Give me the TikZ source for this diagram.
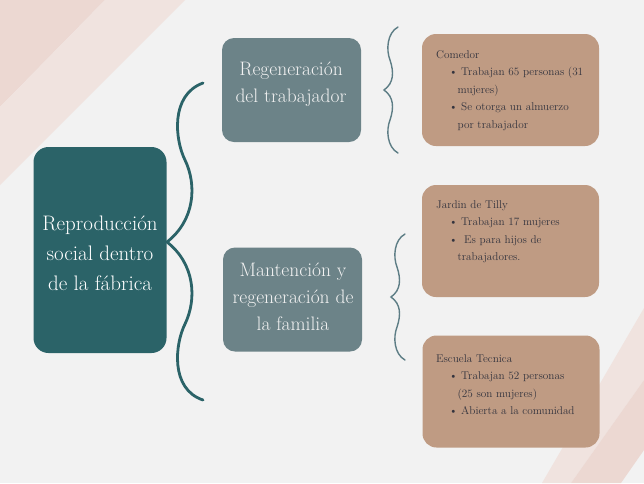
\documentclass[tikz,border=0pt]{standalone}

\definecolor{bgcol}{HTML}{F2F2F2}
\definecolor{pinkdark}{HTML}{ECD8D2}
\definecolor{pinklight}{HTML}{F0E3DF}
\definecolor{tealdark}{HTML}{2B6368}
\definecolor{tealgrey}{HTML}{6C8388}
\definecolor{tanbox}{HTML}{BF9B83}
\definecolor{bracegrey}{HTML}{5D7D85}
\definecolor{inktext}{HTML}{34343E}

\newcommand{\bul}{\hspace*{13pt}\textbullet\hspace{3.5pt}}
\newcommand{\cont}{\hspace*{21.5pt}}

\begin{document}
\begin{tikzpicture}[x=1pt, y=-1pt,
  mainbox/.style={fill=tealdark, rounded corners=15pt, minimum width=133pt, minimum height=206pt, inner sep=0},
  midbox/.style={fill=tealgrey, rounded corners=12pt, minimum width=139pt, minimum height=104pt, inner sep=0},
  infobox/.style={fill=tanbox, rounded corners=14pt, minimum width=177pt, minimum height=112pt, inner sep=0},
  maintxt/.style={inner sep=0, align=center, text=white, font=\fontsize{21}{30}\selectfont},
  midtxt/.style={inner sep=0, align=center, text=white!95!black, font=\fontsize{19.5}{27}\selectfont},
  infotxt/.style={anchor=north west, inner sep=0, align=left, text=inktext, font=\fontsize{11.2}{17.5}\selectfont},
  bigbrace/.style={draw=tealdark, line width=2.8pt, line cap=round},
  smallbrace/.style={draw=bracegrey, line width=1.4pt, line cap=round}]

\useasboundingbox (0,0) rectangle (644,483);

% Background and stripes
\fill[bgcol] (0,0) rectangle (644,483);
\fill[pinkdark] (0,0) -- (105,0) -- (0,107) -- cycle;
\fill[pinklight] (105,0) -- (185,0) -- (0,185) -- (0,107) -- cycle;
\fill[pinklight] (644,308) -- (542,483) -- (571,483) -- (644,380) -- cycle;
\fill[pinkdark] (644,380) -- (571,483) -- (621,483) -- (644,450) -- cycle;

% Define the boxes
\node[mainbox] (repro) at (100,250) {};
\node[midbox] (regen) at (291.5,90) {};
\node[midbox] (mant) at (292.5,299.5) {};
\node[infobox] (comedor) at (510.5,90) {};
\node[infobox] (jardin) at (510.5,241) {};
\node[infobox] (escuela) at (511,391.5) {};

% Texts
\node[maintxt] (reproT) at (100,253) {Reproducción\\social dentro\\de la fábrica};
\node[midtxt] (regenT) at (291,84) {Regeneración\\del trabajador};
\node[midtxt] (mantT) at (293,297) {Mantención y\\regeneración de\\la familia};

\node[infotxt] (comedorT) at (436,50.2) {Comedor\\
  \bul Trabajan 65 personas (31\\
  \cont mujeres)\\
  \bul Se otorga un almuerzo\\
  \cont por trabajador};
\node[infotxt] (jardinT) at (436,200.2) {Jardin de Tilly\\
  \bul Trabajan 17 mujeres\\
  \bul\hspace{3pt}Es para hijos de\\
  \cont trabajadores.};
\node[infotxt] (escuelaT) at (436,354.2) {Escuela Tecnica\\
  \bul Trabajan 52 personas\\
  \cont (25 son mujeres)\\
  \bul Abierta a la comunidad};

% Braces
\draw[bigbrace] (203,83) .. controls (170,95) and (175,140) .. (185,160)
  .. controls (197,185) and (195,220) .. (167,242)
  .. controls (195,264) and (197,299) .. (185,324)
  .. controls (175,344) and (170,389) .. (203,400);

\foreach \dx/\dy in {0/0, 7/207}
  \draw[smallbrace, shift={(\dx,\dy)}] (398,27) .. controls (387,33) and (386,50) .. (390,60)
    .. controls (394,72) and (394,83) .. (384,90)
    .. controls (394,97) and (394,108) .. (390,120)
    .. controls (386,130) and (387,147) .. (398,153);

\end{tikzpicture}
\end{document}
